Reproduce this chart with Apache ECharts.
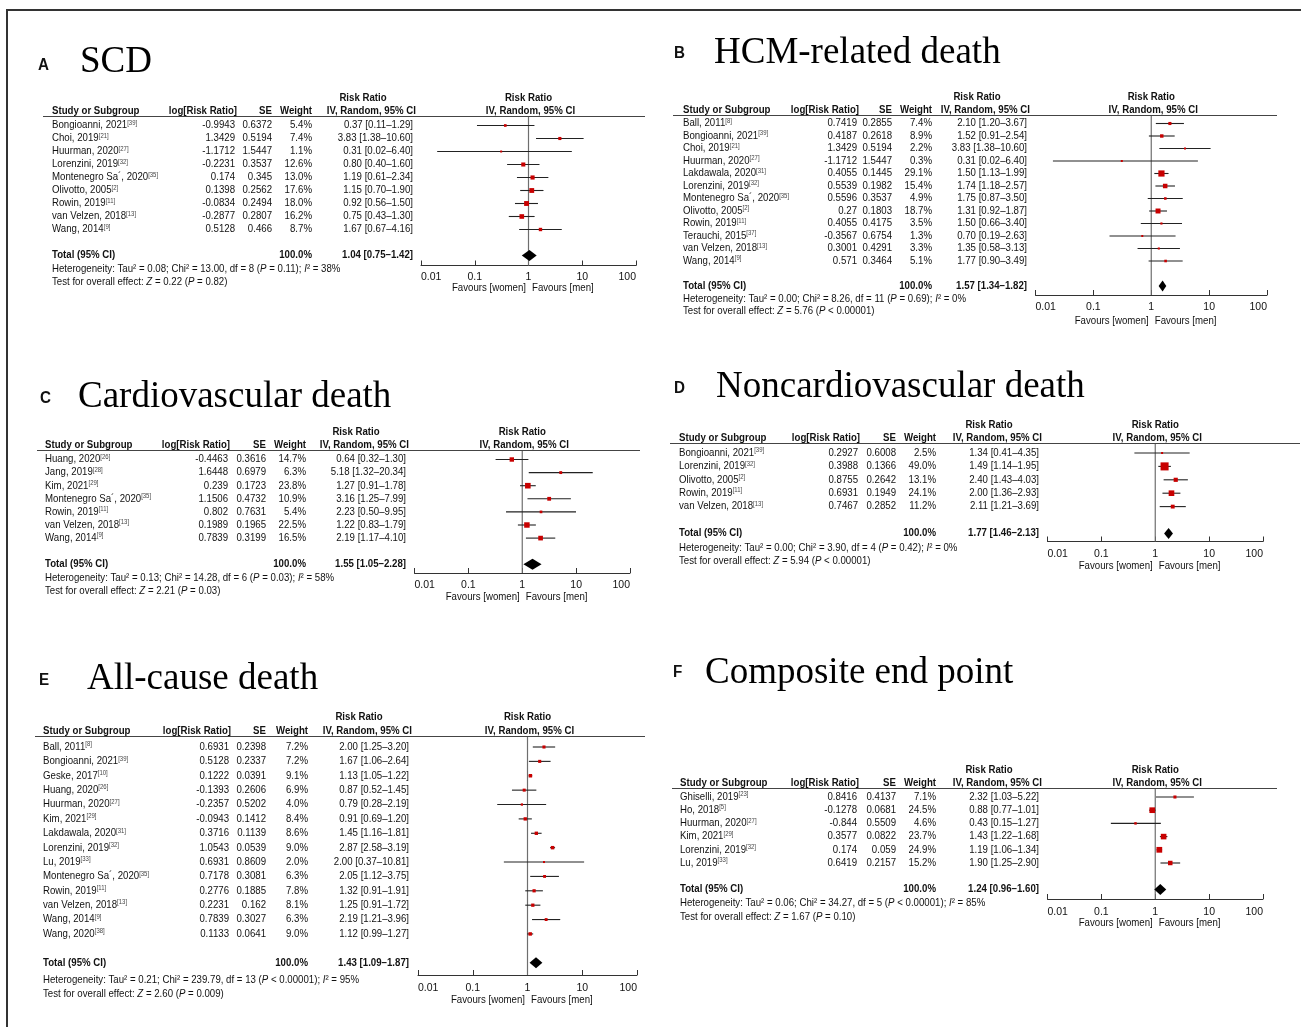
<!DOCTYPE html>
<html>
<head>
<meta charset="utf-8">
<title>Sex differences in outcomes of hypertrophic cardiomyopathy – forest plots</title>
<script src="https://cdn.jsdelivr.net/npm/echarts@6/dist/echarts.min.js"></script>
<style>
  html, body { margin: 0; padding: 0; background: #fff; }
  #chart { width: 1301px; height: 1027px; }
</style>
</head>
<body>
<div id="chart"></div>
<script>
// ---------- Panel A: SCD ----------
const scdStudies = ['Bongioanni, 2021', 'Choi, 2019', 'Huurman, 2020', 'Lorenzini, 2019', 'Montenegro Sa\u00b4, 2020', 'Olivotto, 2005', 'Rowin, 2019', 'van Velzen, 2018', 'Wang, 2014'];
const scdRefs = ['[39]', '[21]', '[27]', '[32]', '[35]', '[2]', '[11]', '[13]', '[9]'];
const scdLogRR = [-0.9943, 1.3429, -1.1712, -0.2231, 0.174, 0.1398, -0.0834, -0.2877, 0.5128];
const scdSE = [0.6372, 0.5194, 1.5447, 0.3537, 0.345, 0.2562, 0.2494, 0.2807, 0.466];
const scdWeight = [5.4, 7.4, 1.1, 12.6, 13.0, 17.6, 18.0, 16.2, 8.7];
const scdRR = [0.37, 3.83, 0.31, 0.80, 1.19, 1.15, 0.92, 0.75, 1.67];
const scdLo = [0.11, 1.38, 0.02, 0.40, 0.61, 0.70, 0.56, 0.43, 0.67];
const scdHi = [1.29, 10.60, 6.40, 1.60, 2.34, 1.90, 1.50, 1.30, 4.16];
const scdTotal = [1.04, 0.75, 1.42];
const scdHet = ['0.08', '13.00', '8', '= 0.11', '38'];
const scdTest = ['0.22', '= 0.82'];

// ---------- Panel B: HCM-related death ----------
const hcmStudies = ['Ball, 2011', 'Bongioanni, 2021', 'Choi, 2019', 'Huurman, 2020', 'Lakdawala, 2020', 'Lorenzini, 2019', 'Montenegro Sa\u00b4, 2020', 'Olivotto, 2005', 'Rowin, 2019', 'Terauchi, 2015', 'van Velzen, 2018', 'Wang, 2014'];
const hcmRefs = ['[8]', '[39]', '[21]', '[27]', '[31]', '[32]', '[35]', '[2]', '[11]', '[37]', '[13]', '[9]'];
const hcmLogRR = [0.7419, 0.4187, 1.3429, -1.1712, 0.4055, 0.5539, 0.5596, 0.27, 0.4055, -0.3567, 0.3001, 0.571];
const hcmSE = [0.2855, 0.2618, 0.5194, 1.5447, 0.1445, 0.1982, 0.3537, 0.1803, 0.4175, 0.6754, 0.4291, 0.3464];
const hcmWeight = [7.4, 8.9, 2.2, 0.3, 29.1, 15.4, 4.9, 18.7, 3.5, 1.3, 3.3, 5.1];
const hcmRR = [2.10, 1.52, 3.83, 0.31, 1.50, 1.74, 1.75, 1.31, 1.50, 0.70, 1.35, 1.77];
const hcmLo = [1.20, 0.91, 1.38, 0.02, 1.13, 1.18, 0.87, 0.92, 0.66, 0.19, 0.58, 0.90];
const hcmHi = [3.67, 2.54, 10.60, 6.40, 1.99, 2.57, 3.50, 1.87, 3.40, 2.63, 3.13, 3.49];
const hcmTotal = [1.57, 1.34, 1.82];
const hcmHet = ['0.00', '8.26', '11', '= 0.69', '0'];
const hcmTest = ['5.76', '< 0.00001'];

// ---------- Panel C: Cardiovascular death ----------
const cvStudies = ['Huang, 2020', 'Jang, 2019', 'Kim, 2021', 'Montenegro Sa\u00b4, 2020', 'Rowin, 2019', 'van Velzen, 2018', 'Wang, 2014'];
const cvRefs = ['[26]', '[28]', '[29]', '[35]', '[11]', '[13]', '[9]'];
const cvLogRR = [-0.4463, 1.6448, 0.239, 1.1506, 0.802, 0.1989, 0.7839];
const cvSE = [0.3616, 0.6979, 0.1723, 0.4732, 0.7631, 0.1965, 0.3199];
const cvWeight = [14.7, 6.3, 23.8, 10.9, 5.4, 22.5, 16.5];
const cvRR = [0.64, 5.18, 1.27, 3.16, 2.23, 1.22, 2.19];
const cvLo = [0.32, 1.32, 0.91, 1.25, 0.50, 0.83, 1.17];
const cvHi = [1.30, 20.34, 1.78, 7.99, 9.95, 1.79, 4.10];
const cvTotal = [1.55, 1.05, 2.28];
const cvHet = ['0.13', '14.28', '6', '= 0.03', '58'];
const cvTest = ['2.21', '= 0.03'];

// ---------- Panel D: Noncardiovascular death ----------
const ncvStudies = ['Bongioanni, 2021', 'Lorenzini, 2019', 'Olivotto, 2005', 'Rowin, 2019', 'van Velzen, 2018'];
const ncvRefs = ['[39]', '[32]', '[2]', '[11]', '[13]'];
const ncvLogRR = [0.2927, 0.3988, 0.8755, 0.6931, 0.7467];
const ncvSE = [0.6008, 0.1366, 0.2642, 0.1949, 0.2852];
const ncvWeight = [2.5, 49.0, 13.1, 24.1, 11.2];
const ncvRR = [1.34, 1.49, 2.40, 2.00, 2.11];
const ncvLo = [0.41, 1.14, 1.43, 1.36, 1.21];
const ncvHi = [4.35, 1.95, 4.03, 2.93, 3.69];
const ncvTotal = [1.77, 1.46, 2.13];
const ncvHet = ['0.00', '3.90', '4', '= 0.42', '0'];
const ncvTest = ['5.94', '< 0.00001'];

// ---------- Panel E: All-cause death ----------
const allStudies = ['Ball, 2011', 'Bongioanni, 2021', 'Geske, 2017', 'Huang, 2020', 'Huurman, 2020', 'Kim, 2021', 'Lakdawala, 2020', 'Lorenzini, 2019', 'Lu, 2019', 'Montenegro Sa\u00b4, 2020', 'Rowin, 2019', 'van Velzen, 2018', 'Wang, 2014', 'Wang, 2020'];
const allRefs = ['[8]', '[39]', '[10]', '[26]', '[27]', '[29]', '[31]', '[32]', '[33]', '[35]', '[11]', '[13]', '[9]', '[38]'];
const allLogRR = [0.6931, 0.5128, 0.1222, -0.1393, -0.2357, -0.0943, 0.3716, 1.0543, 0.6931, 0.7178, 0.2776, 0.2231, 0.7839, 0.1133];
const allSE = [0.2398, 0.2337, 0.0391, 0.2606, 0.5202, 0.1412, 0.1139, 0.0539, 0.8609, 0.3081, 0.1885, 0.162, 0.3027, 0.0641];
const allWeight = [7.2, 7.2, 9.1, 6.9, 4.0, 8.4, 8.6, 9.0, 2.0, 6.3, 7.8, 8.1, 6.3, 9.0];
const allRR = [2.00, 1.67, 1.13, 0.87, 0.79, 0.91, 1.45, 2.87, 2.00, 2.05, 1.32, 1.25, 2.19, 1.12];
const allLo = [1.25, 1.06, 1.05, 0.52, 0.28, 0.69, 1.16, 2.58, 0.37, 1.12, 0.91, 0.91, 1.21, 0.99];
const allHi = [3.20, 2.64, 1.22, 1.45, 2.19, 1.20, 1.81, 3.19, 10.81, 3.75, 1.91, 1.72, 3.96, 1.27];
const allTotal = [1.43, 1.09, 1.87];
const allHet = ['0.21', '239.79', '13', '< 0.00001', '95'];
const allTest = ['2.60', '= 0.009'];

// ---------- Panel F: Composite end point ----------
const compStudies = ['Ghiselli, 2019', 'Ho, 2018', 'Huurman, 2020', 'Kim, 2021', 'Lorenzini, 2019', 'Lu, 2019'];
const compRefs = ['[23]', '[5]', '[27]', '[29]', '[32]', '[33]'];
const compLogRR = [0.8416, -0.1278, -0.844, 0.3577, 0.174, 0.6419];
const compSE = [0.4137, 0.0681, 0.5509, 0.0822, 0.059, 0.2157];
const compWeight = [7.1, 24.5, 4.6, 23.7, 24.9, 15.2];
const compRR = [2.32, 0.88, 0.43, 1.43, 1.19, 1.90];
const compLo = [1.03, 0.77, 0.15, 1.22, 1.06, 1.25];
const compHi = [5.22, 1.01, 1.27, 1.68, 1.34, 2.90];
const compTotal = [1.24, 0.96, 1.60];
const compHet = ['0.06', '34.27', '5', '< 0.00001', '85'];
const compTest = ['1.67', '= 0.10'];

// Log-scale tick labels of every forest axis
const axisTicks = ['0.01', '0.1', '1', '10', '100'];

// ---------- fonts & styles ----------
const SANS = "'Liberation Sans', Arial, Helvetica, sans-serif";
const SERIF = "'Liberation Serif', 'Times New Roman', serif";
const FS = 10.5;      // table text size
const SX = 0.92;      // horizontal squeeze of table text
const INK = '#111';
const RED = '#c80000';

// ---------- panel layout (pixels) ----------
const panels = [
  { letter: 'A', title: 'SCD', studies: scdStudies, refs: scdRefs, logRR: scdLogRR, se: scdSE, weight: scdWeight, rr: scdRR, lo: scdLo, hi: scdHi, total: scdTotal, het: scdHet, test: scdTest,
    L: { letterX: 38, letterY: 66, titleX: 80, titleY: 62, h1Y: 98, h2Y: 111, lineY: 116.5, lineX0: 43, lineX1: 645,
         colStudy: 52, colLog: 235, colSe: 272, colW: 312, colCi: 413, x001: 421, x100: 636,
         y0: 125.5, rowH: 13, axisY: 265.5, labY: 276, hetY: 269.5, testY: 282.5, favY: 288 } },
  { letter: 'B', title: 'HCM-related death', studies: hcmStudies, refs: hcmRefs, logRR: hcmLogRR, se: hcmSE, weight: hcmWeight, rr: hcmRR, lo: hcmLo, hi: hcmHi, total: hcmTotal, het: hcmHet, test: hcmTest,
    L: { letterX: 674, letterY: 54, titleX: 714, titleY: 53, h1Y: 97, h2Y: 110, lineY: 115.5, lineX0: 673, lineX1: 1277,
         colStudy: 683, colLog: 857, colSe: 892, colW: 932, colCi: 1027, x001: 1035.5, x100: 1267,
         y0: 123.5, rowH: 12.5, axisY: 295, labY: 306, hetY: 299, testY: 311, favY: 321 } },
  { letter: 'C', title: 'Cardiovascular death', studies: cvStudies, refs: cvRefs, logRR: cvLogRR, se: cvSE, weight: cvWeight, rr: cvRR, lo: cvLo, hi: cvHi, total: cvTotal, het: cvHet, test: cvTest,
    L: { letterX: 40, letterY: 399, titleX: 78, titleY: 397, h1Y: 432, h2Y: 445, lineY: 450.5, lineX0: 37, lineX1: 640,
         colStudy: 45, colLog: 228, colSe: 266, colW: 306, colCi: 406, x001: 414.5, x100: 630,
         y0: 459.5, rowH: 13.1, axisY: 573, labY: 584, hetY: 578, testY: 591, favY: 597 } },
  { letter: 'D', title: 'Noncardiovascular death', studies: ncvStudies, refs: ncvRefs, logRR: ncvLogRR, se: ncvSE, weight: ncvWeight, rr: ncvRR, lo: ncvLo, hi: ncvHi, total: ncvTotal, het: ncvHet, test: ncvTest,
    L: { letterX: 674, letterY: 389, titleX: 716, titleY: 387, h1Y: 425, h2Y: 438, lineY: 443.5, lineX0: 670, lineX1: 1300,
         colStudy: 679, colLog: 858, colSe: 896, colW: 936, colCi: 1039, x001: 1047.5, x100: 1263,
         y0: 453, rowH: 13.4, axisY: 541.5, labY: 553, hetY: 548, testY: 561, favY: 566 } },
  { letter: 'E', title: 'All-cause death', studies: allStudies, refs: allRefs, logRR: allLogRR, se: allSE, weight: allWeight, rr: allRR, lo: allLo, hi: allHi, total: allTotal, het: allHet, test: allTest,
    L: { letterX: 39, letterY: 681, titleX: 87, titleY: 679, h1Y: 717, h2Y: 731, lineY: 736.5, lineX0: 35, lineX1: 645,
         colStudy: 43, colLog: 229, colSe: 266, colW: 308, colCi: 409, x001: 418, x100: 637,
         y0: 747, rowH: 14.38, axisY: 975, labY: 987, hetY: 980, testY: 994, favY: 1000 } },
  { letter: 'F', title: 'Composite end point', studies: compStudies, refs: compRefs, logRR: compLogRR, se: compSE, weight: compWeight, rr: compRR, lo: compLo, hi: compHi, total: compTotal, het: compHet, test: compTest,
    L: { letterX: 673, letterY: 673, titleX: 705, titleY: 673, h1Y: 770, h2Y: 783, lineY: 788.5, lineX0: 672, lineX1: 1277,
         colStudy: 680, colLog: 857, colSe: 896, colW: 936, colCi: 1039, x001: 1047.5, x100: 1263,
         y0: 797, rowH: 13.2, axisY: 899, labY: 911, hetY: 903, testY: 917, favY: 923 } }
];

const W = 1301, H = 1027;

// text element helper (used by graphic and custom series)
function T(x, y, text, o) {
  o = o || {};
  const el = {
    type: 'text', x: x, y: y, silent: true, z: 10,
    scaleX: o.sx != null ? o.sx : SX,
    style: {
      text: text, x: 0, y: 0,
      fill: o.fill || INK,
      fontSize: o.size || FS,
      fontFamily: o.family || SANS,
      fontWeight: o.bold ? 'bold' : 'normal',
      fontStyle: 'normal',
      align: o.align || 'left',
      verticalAlign: 'middle'
    }
  };
  if (o.rich) el.style.rich = o.rich;
  return el;
}

const richBase = { fontSize: FS, fontFamily: SANS, fill: INK };
const richFoot = { i: Object.assign({ fontStyle: 'italic' }, richBase) };
const richName = {
  n: Object.assign({ verticalAlign: 'middle', lineHeight: 12 }, richBase),
  s: { fontSize: 6.5, fontFamily: SANS, fill: '#444', verticalAlign: 'top', lineHeight: 12 }
};

const ciText = (r, l, h) => r.toFixed(2) + ' [' + l.toFixed(2) + '\u2013' + h.toFixed(2) + ']';

const grids = [], xAxes = [], yAxes = [], series = [], graphics = [];

// frame of the figure
graphics.push({ type: 'line', silent: true, shape: { x1: 6, y1: 10, x2: W, y2: 10 }, style: { stroke: '#333', lineWidth: 2 } });
graphics.push({ type: 'line', silent: true, shape: { x1: 7, y1: 9, x2: 7, y2: H }, style: { stroke: '#333', lineWidth: 2 } });

panels.forEach(function (p, k) {
  const L = p.L;
  const n = p.studies.length;
  const totalRow = n + 1;
  const yMin = (L.lineY - L.y0) / L.rowH;
  const yMax = (L.axisY - L.y0) / L.rowH;
  const xOne = (L.x001 + L.x100) / 2;

  grids.push({ left: L.x001, top: L.lineY, width: L.x100 - L.x001, height: L.axisY - L.lineY, outerBoundsMode: 'none', containLabel: false });

  xAxes.push({
    gridIndex: k, type: 'log', logBase: 10, min: 0.01, max: 100, position: 'bottom',
    axisLine: { show: true, onZero: false, lineStyle: { color: '#333', width: 1 } },
    axisTick: { show: true, inside: true, length: 5, lineStyle: { color: '#333', width: 1 } },
    minorTick: { show: false }, splitLine: { show: false },
    axisLabel: {
      show: true, color: INK, fontSize: FS, fontFamily: SANS, margin: L.labY - L.axisY - 4,
      alignMinLabel: 'left', alignMaxLabel: 'right',
      formatter: function (v) {
        const e = Math.round(Math.log10(v));
        return axisTicks[e + 2];
      }
    }
  });
  yAxes.push({ gridIndex: k, type: 'value', inverse: true, min: yMin, max: yMax, show: false });

  // line of no effect (RR = 1)
  series.push({
    type: 'custom', xAxisIndex: k, yAxisIndex: k, silent: true, clip: false, z: 1,
    data: [[1, yMin, yMax]],
    encode: { x: 0, y: [1, 2] },
    renderItem: function (params, api) {
      const a = api.coord([api.value(0), api.value(1)]);
      const b = api.coord([api.value(0), api.value(2)]);
      return { type: 'line', shape: { x1: a[0], y1: a[1], x2: b[0], y2: b[1] }, style: { stroke: '#6e6e6e', lineWidth: 1.2 } };
    }
  });

  // study estimates: CI whisker + weighted square
  series.push({
    type: 'custom', xAxisIndex: k, yAxisIndex: k, silent: true, clip: false, z: 3,
    data: p.rr.map(function (r, i) { return [r, p.lo[i], p.hi[i], i, p.weight[i]]; }),
    encode: { x: [0, 1, 2], y: 3 },
    renderItem: function (params, api) {
      const row = api.value(3);
      const c = api.coord([api.value(0), row]);
      const a = api.coord([api.value(1), row]);
      const b = api.coord([api.value(2), row]);
      const s = Math.max(2, 1.15 * Math.sqrt(api.value(4)));
      return {
        type: 'group', children: [
          { type: 'line', shape: { x1: a[0], y1: c[1], x2: b[0], y2: c[1] }, style: { stroke: '#222', lineWidth: 1.1 } },
          { type: 'rect', shape: { x: c[0] - s / 2, y: c[1] - s / 2, width: s, height: s }, style: { fill: RED } }
        ]
      };
    }
  });

  // pooled estimate diamond
  series.push({
    type: 'custom', xAxisIndex: k, yAxisIndex: k, silent: true, clip: false, z: 3,
    data: [[p.total[0], p.total[1], p.total[2], totalRow]],
    encode: { x: [0, 1, 2], y: 3 },
    renderItem: function (params, api) {
      const row = api.value(3);
      const c = api.coord([api.value(0), row]);
      const a = api.coord([api.value(1), row]);
      const b = api.coord([api.value(2), row]);
      const h = 5.5;
      return { type: 'polygon', shape: { points: [[a[0], c[1]], [c[0], c[1] - h], [b[0], c[1]], [c[0], c[1] + h]] }, style: { fill: '#000' } };
    }
  });

  // table rows (studies + total), placed on the same row scale
  const tableRows = p.studies.map(function (s, i) { return [1, i]; }).concat([[1, totalRow]]);
  series.push({
    type: 'custom', xAxisIndex: k, yAxisIndex: k, silent: true, clip: false, z: 5,
    data: tableRows,
    encode: { x: 0, y: 1 },
    renderItem: function (params, api) {
      const i = params.dataIndex;
      const y = api.coord([1, api.value(1)])[1];
      if (i < n) {
        return {
          type: 'group', children: [
            T(L.colStudy, y, '{n|' + p.studies[i] + '}{s|' + p.refs[i] + '}', { rich: richName }),
            T(L.colLog, y, String(p.logRR[i]), { align: 'right' }),
            T(L.colSe, y, String(p.se[i]), { align: 'right' }),
            T(L.colW, y, p.weight[i].toFixed(1) + '%', { align: 'right' }),
            T(L.colCi, y, ciText(p.rr[i], p.lo[i], p.hi[i]), { align: 'right' })
          ]
        };
      }
      return {
        type: 'group', children: [
          T(L.colStudy, y, 'Total (95% CI)', { bold: true }),
          T(L.colW, y, '100.0%', { bold: true, align: 'right' }),
          T(L.colCi, y, ciText(p.total[0], p.total[1], p.total[2]), { bold: true, align: 'right' })
        ]
      };
    }
  });

  // panel letter and title
  graphics.push(T(L.letterX, L.letterY, p.letter, { bold: true, size: 16, sx: 0.95 }));
  graphics.push(T(L.titleX, L.titleY, p.title, { family: SERIF, size: 37, sx: 1, fill: '#000' }));

  // column headers
  graphics.push(T(L.colCi - 50, L.h1Y, 'Risk Ratio', { bold: true, align: 'center' }));
  graphics.push(T(xOne, L.h1Y, 'Risk Ratio', { bold: true, align: 'center' }));
  graphics.push(T(L.colStudy, L.h2Y, 'Study or Subgroup', { bold: true }));
  graphics.push(T(L.colLog + 2, L.h2Y, 'log[Risk Ratio]', { bold: true, align: 'right' }));
  graphics.push(T(L.colSe, L.h2Y, 'SE', { bold: true, align: 'right' }));
  graphics.push(T(L.colW, L.h2Y, 'Weight', { bold: true, align: 'right' }));
  graphics.push(T(L.colCi + 3, L.h2Y, 'IV, Random, 95% CI', { bold: true, align: 'right' }));
  graphics.push(T(xOne + 2, L.h2Y, 'IV, Random, 95% CI', { bold: true, align: 'center' }));
  graphics.push({ type: 'line', silent: true, z: 4, shape: { x1: L.lineX0, y1: L.lineY, x2: L.lineX1, y2: L.lineY }, style: { stroke: '#444', lineWidth: 1.2 } });

  // heterogeneity and overall effect
  const h = p.het;
  graphics.push(T(L.colStudy, L.hetY,
    'Heterogeneity: Tau\u00b2 = ' + h[0] + '; Chi\u00b2 = ' + h[1] + ', df = ' + h[2] + ' ({i|P} ' + h[3] + '); {i|I}\u00b2 = ' + h[4] + '%',
    { rich: richFoot }));
  graphics.push(T(L.colStudy, L.testY,
    'Test for overall effect: {i|Z} = ' + p.test[0] + ' ({i|P} ' + p.test[1] + ')',
    { rich: richFoot }));

  // favours captions under the axis
  graphics.push(T(xOne - 2.5, L.favY, 'Favours [women]', { align: 'right' }));
  graphics.push(T(xOne + 3.5, L.favY, 'Favours [men]', { align: 'left' }));
});

const chart = echarts.init(document.getElementById('chart'), null, { renderer: 'canvas', width: W, height: H });
chart.setOption({
  animation: false,
  backgroundColor: '#fff',
  grid: grids,
  xAxis: xAxes,
  yAxis: yAxes,
  series: series,
  graphic: { elements: graphics }
});
</script>
</body>
</html>
